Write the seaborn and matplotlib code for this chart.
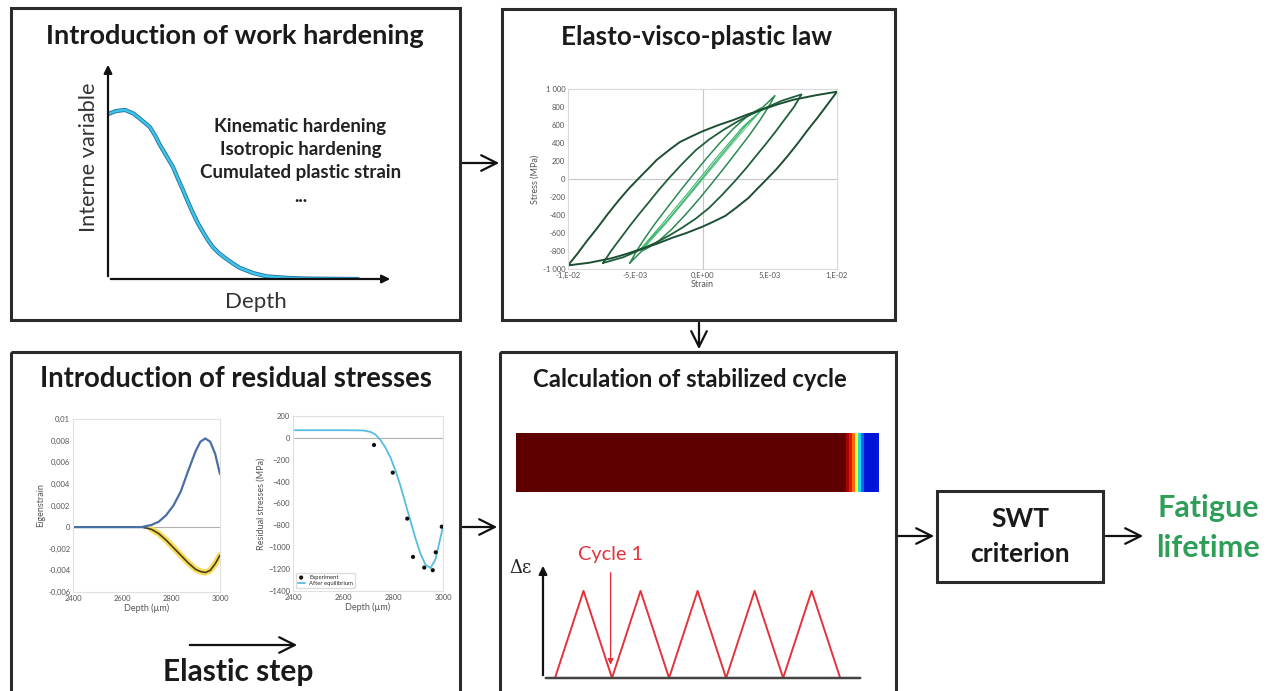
import matplotlib
matplotlib.use("Agg")
import matplotlib.pyplot as plt
import seaborn as sns
from matplotlib.patches import Rectangle
from matplotlib.colors import LinearSegmentedColormap

W, H = 1268, 691

# ---------------- data ----------------
# work hardening schematic (normalised depth / value)
hard_depth = [0, 0.028, 0.060, 0.09, 0.12, 0.147, 0.165, 0.182, 0.205, 0.228, 0.245, 0.263,
              0.28, 0.298, 0.315, 0.333, 0.35, 0.368, 0.39, 0.411, 0.44, 0.463, 0.51, 0.558,
              0.63, 0.70, 0.877]
hard_value = [0.760, 0.774, 0.779, 0.762, 0.730, 0.700, 0.662, 0.618, 0.567, 0.516, 0.463, 0.410,
              0.357, 0.304, 0.258, 0.217, 0.180, 0.147, 0.118, 0.097, 0.070, 0.051, 0.027, 0.012,
              0.005, 0.002, 0.0]
hard_labels = ["Kinematic hardening", "Isotropic hardening", "Cumulated plastic strain", "..."]

# hysteresis loops (strain in 1e-3, stress in MPa)
outer_strain = [-10, -9.3, -8.6, -7.8, -7.1, -6.3, -5.5, -4.66, -4.0, -3.42, -2.5, -1.69, -0.8, 0,
                1.2, 2.28, 3.4, 4.51, 5.6, 6.74, 8.4, 10,
                9.3, 8.6, 7.8, 7.1, 6.3, 5.5, 4.66, 4.0, 3.42, 2.5, 1.69, 0.8, 0,
                -1.2, -2.28, -3.4, -4.51, -5.6, -6.74, -8.4, -10]
outer_stress = [-960, -830, -690, -540, -400, -250, -110, 20, 120, 210, 320, 410, 475, 530,
                600, 655, 720, 775, 830, 880, 930, 970,
                830, 690, 540, 400, 250, 110, -20, -120, -210, -320, -410, -475, -530,
                -600, -655, -720, -775, -830, -880, -930, -960]
middle_strain = [-7.39, -6.8, -6.15, -5.4, -4.66, -4.0, -3.3, -2.43, -1.5, -0.5, 0.5, 1.5, 2.5,
                 3.5, 4.51, 5.9, 7.36,
                 6.8, 6.15, 5.4, 4.66, 4.0, 3.3, 2.43, 1.5, 0.5, -0.5, -1.5, -2.5,
                 -3.5, -4.51, -5.9, -7.39]
middle_stress = [-933, -800, -670, -520, -380, -260, -130, 20, 170, 320, 440, 540, 630,
                 710, 778, 870, 940,
                 800, 670, 520, 380, 260, 130, -20, -170, -320, -440, -540, -630,
                 -710, -778, -870, -933]
inner_strain = [-5.4, -4.9, -4.3, -3.5, -2.68, -1.7, -0.69, 0.3, 1.29, 2.3, 3.27, 4.0, 4.51, 5.38,
                4.9, 4.3, 3.5, 2.68, 1.7, 0.69, -0.3, -1.29, -2.3, -3.27, -4.0, -4.51, -5.4]
inner_stress = [-933, -800, -660, -490, -330, -140, 50, 230, 400, 560, 690, 760, 800, 926,
                800, 660, 490, 330, 140, -50, -230, -400, -560, -690, -760, -800, -933]
thin_strain = [-4.66, -3.0, -1.0, 1.0, 3.0, 4.51, 3.3, 1.3, -0.7, -2.7, -4.66]
thin_stress = [-790, -500, -140, 230, 580, 780, 610, 250, -120, -480, -790]
thin2_strain = [-4.5, -2.0, 0.5, 3.0, 4.4, 2.2, -0.3, -2.8, -4.5]
thin2_stress = [-790, -350, 110, 560, 770, 390, -60, -510, -790]
elasto_yticks = [1000, 800, 600, 400, 200, 0, -200, -400, -600, -800, -1000]
elasto_ylabels = ["1 000", "800", "600", "400", "200", "0", "-200", "-400", "-600", "-800", "-1 000"]
elasto_xticks = [-10, -5, 0, 5, 10]
elasto_xlabels = ["-1,E-02", "-5,E-03", "0,E+00", "5,E-03", "1,E-02"]

# eigenstrain
eig_depth = [2400, 2600, 2680, 2720, 2750, 2780, 2810, 2840, 2870, 2900, 2920, 2940, 2960, 2980, 3000]
eig_blue = [0, 0, 0, 0.0002, 0.0005, 0.0011, 0.0020, 0.0033, 0.0052, 0.0070, 0.0079, 0.0082,
            0.0079, 0.0068, 0.0049]
eig_yellow = [0, 0, 0, -0.0002, -0.0006, -0.0012, -0.0019, -0.0026, -0.0033, -0.0039, -0.0041,
              -0.0042, -0.0040, -0.0034, -0.0026]
eig_yticks = [0.01, 0.008, 0.006, 0.004, 0.002, 0, -0.002, -0.004, -0.006]
eig_ylabels = ["0,01", "0,008", "0,006", "0,004", "0,002", "0", "-0,002", "-0,004", "-0,006"]
depth_ticks = [2400, 2600, 2800, 3000]

# residual stresses
rs_depth = [2400, 2600, 2680, 2710, 2730, 2750, 2770, 2790, 2810, 2830, 2850, 2870, 2890,
            2910, 2930, 2950, 2970, 3000]
rs_stress = [70, 70, 68, 55, 30, -20, -90, -180, -300, -440, -600, -760, -920,
             -1060, -1160, -1190, -1110, -812]
exp_depth = [2724, 2799, 2857, 2880, 2925, 2959, 2971, 2995]
exp_stress = [-65, -318, -738, -1088, -1186, -1210, -1046, -812]
rs_yticks = [200, 0, -200, -400, -600, -800, -1000, -1200, -1400]

# stabilized cycle field (one row of cells)
field_values = [1.0] * 110 + [0.92, 0.85, 0.75, 0.62, 0.42, 0.25, 0.13, 0.12, 0.12, 0.12, 0.14]

# loading cycles
cycle_t = [0, 1, 2, 3, 4, 5, 6, 7, 8, 9, 10]
cycle_eps = [0, 1, 0, 1, 0, 1, 0, 1, 0, 1, 0]

# ---------------- figure ----------------
sns.set_theme(style="white")
plt.rcParams["font.family"] = ["Lato", "DejaVu Sans"]

fig = plt.figure(figsize=(W / 100, H / 100), dpi=100)


def rect(x0, y0, x1, y1):
    return [x0 / W, 1 - y1 / H, (x1 - x0) / W, (y1 - y0) / H]


ov = fig.add_axes([0, 0, 1, 1])
ov.set_xlim(0, W)
ov.set_ylim(H, 0)
ov.axis("off")

edge = "#2b2b2b"
for (x0, y0, x1, y1) in [(11, 8, 460, 320), (502, 9, 895, 320), (11, 352, 460, 700),
                         (500, 352, 896, 700), (937, 491, 1103, 582)]:
    ov.add_patch(Rectangle((x0, y0), x1 - x0, y1 - y0, fill=False, ec=edge, lw=2.2))

arr = dict(arrowstyle="->", lw=1.6, color="#111111", mutation_scale=28)
for (xa, ya, xb, yb) in [(460, 163, 502, 163), (699, 320, 699, 352), (460, 527, 500, 527),
                         (896, 536, 937, 536), (1103, 536, 1146, 536), (187, 645, 300, 645)]:
    ov.annotate("", xy=(xb, yb), xytext=(xa, ya), arrowprops=arr)

tkw = dict(ha="center", va="center", fontweight="bold", color="#1a1a1a")
ov.text(235, 36, "Introduction of work hardening", fontsize=19.5, **tkw)
ov.text(697, 37, "Elasto-visco-plastic law", fontsize=18.7, **tkw)
ov.text(236, 379, "Introduction of residual stresses", fontsize=19.8, **tkw)
ov.text(690, 379, "Calculation of stabilized cycle", fontsize=17.2, **tkw)
ov.text(238, 672, "Elastic step", fontsize=21.5, **tkw)
ov.text(1020, 519, "SWT", fontsize=19, **tkw)
ov.text(1020, 554, "criterion", fontsize=19, **tkw)
ov.text(1208, 508, "Fatigue", ha="center", va="center", fontweight="bold", fontsize=22, color="#2e9e58")
ov.text(1208, 548, "lifetime", ha="center", va="center", fontweight="bold", fontsize=22, color="#2e9e58")

# ---- work hardening schematic ----
ah = fig.add_axes(rect(108, 62, 393, 279))
ah.set_xlim(0, 1)
ah.set_ylim(0, 1)
ah.axis("off")
sns.lineplot(x=hard_depth, y=hard_value, ax=ah, color="#1f6f9a", lw=3.0, sort=False, estimator=None)
sns.lineplot(x=hard_depth, y=hard_value, ax=ah, color="#3cc4ea", lw=1.8, sort=False, estimator=None)
axarr = dict(arrowstyle="-|>", lw=1.6, color="#111111", mutation_scale=12)
ah.annotate("", xy=(0, 1.0), xytext=(0, 0), xycoords="axes fraction", arrowprops=axarr)
ah.annotate("", xy=(1.0, 0), xytext=(0, 0), xycoords="axes fraction", arrowprops=axarr)
for i, lab in enumerate(hard_labels):
    ah.text(0.675, 0.705 - i * 0.108, lab, ha="center", va="center", fontweight="bold",
            fontsize=13.5, color="#222222", transform=ah.transAxes)
ah.text(-0.065, 0.56, "Interne variable", rotation=90, ha="center", va="center",
        fontsize=15.7, color="#333333", transform=ah.transAxes)
ah.text(0.52, -0.105, "Depth", ha="center", va="center", fontsize=16, color="#333333",
        transform=ah.transAxes)

# ---- elasto-visco-plastic ----
small = 5.5
gray = "#555555"
ae = fig.add_axes(rect(568, 89, 837, 269))
ae.set_xlim(-10, 10)
ae.set_ylim(-1000, 1000)
ae.axhline(0, color="#c8c8c8", lw=0.8)
ae.axvline(0, color="#c8c8c8", lw=0.8)
sns.lineplot(x=thin2_strain, y=thin2_stress, ax=ae, color="#5cc485", lw=0.7, sort=False, estimator=None)
sns.lineplot(x=thin_strain, y=thin_stress, ax=ae, color="#3fb56e", lw=0.8, sort=False, estimator=None)
sns.lineplot(x=inner_strain, y=inner_stress, ax=ae, color="#2a8a50", lw=1.1, sort=False, estimator=None)
sns.lineplot(x=middle_strain, y=middle_stress, ax=ae, color="#1e5e3a", lw=1.3, sort=False, estimator=None)
sns.lineplot(x=outer_strain, y=outer_stress, ax=ae, color="#1d4f33", lw=1.4, sort=False, estimator=None)
ae.set_yticks(elasto_yticks)
ae.set_yticklabels(elasto_ylabels)
ae.set_xticks(elasto_xticks)
ae.set_xticklabels(elasto_xlabels)
ae.tick_params(labelsize=small, colors=gray, length=0, pad=2)
ae.set_xlabel("Strain", fontsize=6.5, color=gray, labelpad=1)
ae.set_ylabel("Stress (MPa)", fontsize=6.5, color=gray, labelpad=2)
for s in ae.spines.values():
    s.set_color("#d9d9d9")
    s.set_linewidth(0.8)

# ---- eigenstrain ----
ag = fig.add_axes(rect(73, 419, 220, 592))
ag.set_xlim(2400, 3000)
ag.set_ylim(-0.006, 0.01)
ag.axhline(0, color="#b0b0b0", lw=0.8)
sns.lineplot(x=eig_depth[3:], y=eig_yellow[3:], ax=ag, color="#f7dc5a", lw=4.5, estimator=None)
sns.lineplot(x=eig_depth, y=eig_yellow, ax=ag, color="#4a3f1a", lw=1.2, estimator=None)
sns.lineplot(x=eig_depth, y=eig_blue, ax=ag, color="#4a6fa5", lw=1.6, estimator=None)
ag.set_yticks(eig_yticks)
ag.set_yticklabels(eig_ylabels)
ag.set_xticks(depth_ticks)
ag.tick_params(labelsize=small, colors=gray, length=0, pad=2)
ag.set_xlabel("Depth (µm)", fontsize=6.5, color=gray, labelpad=1)
ag.set_ylabel("Eigenstrain", fontsize=6.5, color=gray, labelpad=2)
for s in ag.spines.values():
    s.set_color("#e0e0e0")
    s.set_linewidth(0.8)

# ---- residual stresses ----
ar = fig.add_axes(rect(293, 416, 443, 591))
ar.set_xlim(2400, 3000)
ar.set_ylim(-1400, 200)
ar.axhline(0, color="#b0b0b0", lw=0.8)
sns.lineplot(x=rs_depth, y=rs_stress, ax=ar, color="#55bde0", lw=1.3, estimator=None, label="After equilibrium")
sns.scatterplot(x=exp_depth, y=exp_stress, ax=ar, color="#111111", s=9, edgecolor="none", label="Experiment", zorder=3)
ar.set_yticks(rs_yticks)
ar.set_xticks(depth_ticks)
ar.tick_params(labelsize=small, colors=gray, length=0, pad=2)
ar.set_xlabel("Depth (µm)", fontsize=6.5, color=gray, labelpad=1)
ar.set_ylabel("Residual stresses (MPa)", fontsize=6.5, color=gray, labelpad=2)
h, l = ar.get_legend_handles_labels()
ar.legend(h[::-1], l[::-1], loc="lower left", fontsize=4.2, frameon=True, handlelength=1.2,
          borderpad=0.3, labelspacing=0.2, framealpha=1, edgecolor="#dddddd")
for s in ar.spines.values():
    s.set_color("#e0e0e0")
    s.set_linewidth(0.8)

# ---- stabilized cycle field ----
af = fig.add_axes(rect(516, 433, 879, 492))
cmap = LinearSegmentedColormap.from_list(
    "field", [(0.0, "#0000b0"), (0.14, "#0018e0"), (0.4, "#00d8ff"), (0.62, "#ffff30"),
              (0.8, "#ff3000"), (0.9, "#c00000"), (1.0, "#5e0000")])
sns.heatmap([field_values], ax=af, cmap=cmap, vmin=0, vmax=1, cbar=False,
            xticklabels=False, yticklabels=False)

# ---- loading cycles ----
at = fig.add_axes(rect(543, 563, 863, 678))
at.set_xlim(-0.42, 10.8)
at.set_ylim(0, 1.32)
at.axis("off")
sns.lineplot(x=cycle_t, y=cycle_eps, ax=at, color="#e4323c", lw=1.4, estimator=None)
at.annotate("", xy=(0, 1.0), xytext=(0, 0), xycoords="axes fraction", arrowprops=axarr)
at.annotate("", xy=(1.0, 0), xytext=(0, 0), xycoords="axes fraction",
            arrowprops=dict(arrowstyle="-", lw=1.8, color="#444444"))
at.annotate("", xy=(1.95, 0.12), xytext=(1.95, 1.24),
            arrowprops=dict(arrowstyle="-|>", lw=1.0, color="#e4323c", mutation_scale=8))
at.text(1.95, 1.42, "Cycle 1", ha="center", va="center", fontsize=14.3, color="#e4323c", clip_on=False)
at.text(-0.035, 0.96, "Δε", ha="right", va="center", fontsize=13, color="#222222",
        family=["DejaVu Serif"], transform=at.transAxes)

fig.savefig("out.png", dpi=100)
